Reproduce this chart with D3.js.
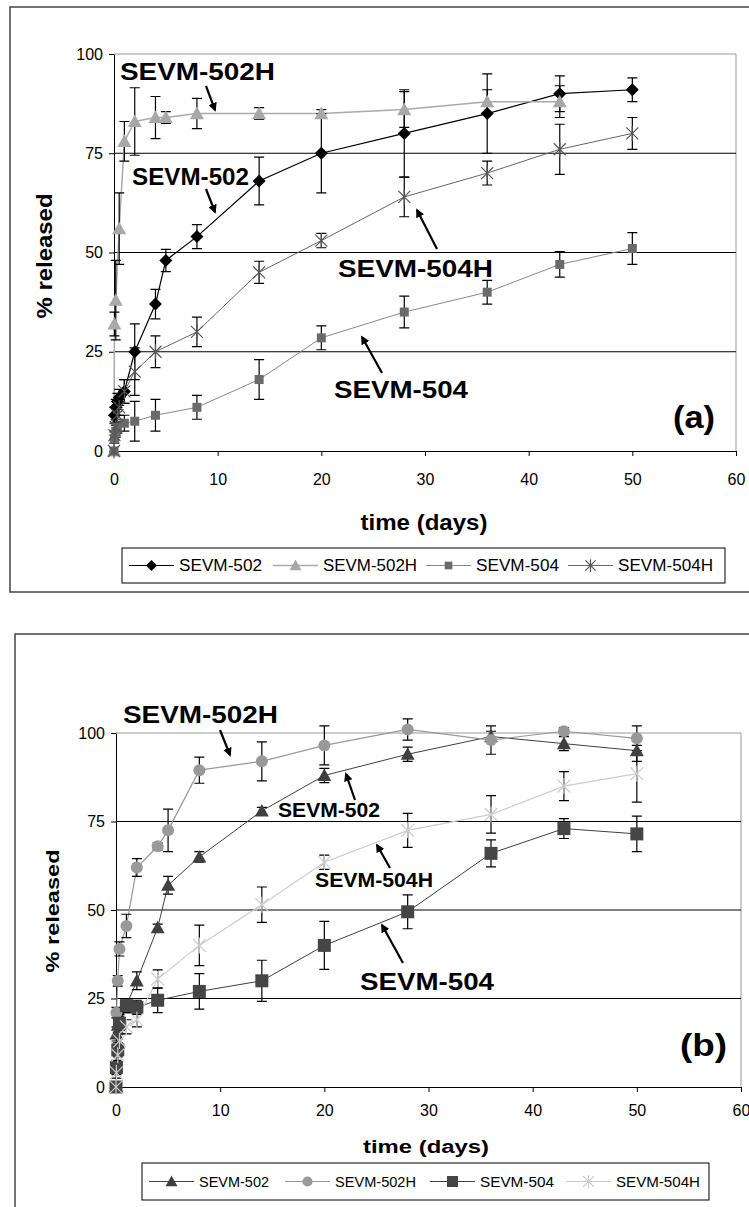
<!DOCTYPE html>
<html>
<head>
<meta charset="utf-8">
<script src="https://cdn.jsdelivr.net/npm/d3@7"></script>
<style>
body { margin: 0; background: #fff; }
text { font-family: "Liberation Sans", Arial, sans-serif; }
</style>
</head>
<body>
<div id="chart"></div>
<script>
const width = 749,
    height = 1207

// sampling times (days), shared by every series
const days = [0, 0.04, 0.17, 0.33, 0.5, 1, 2, 4, 5, 8, 14, 20, 28, 36, 43, 50]
const xTicks = [0, 10, 20, 30, 40, 50, 60]
const yTicks = [0, 25, 50, 75, 100]
const seriesNames = ['SEVM-502', 'SEVM-502H', 'SEVM-504', 'SEVM-504H']

// panel (a): % released, and error bar half-widths
const a502 = [null, 9, 11, 12.5, 13.5, 15, 25, 37, 48, 54, 68, 75, 80, 85, 90, 91]
const a502H = [0, 32, 38, null, 56, 78, 83, 84, 84, 85, 85, 85, 86, 88, 88, null]
const a504 = [0, 3, 5, 6, null, 7, 7.5, 9, null, 11, 18, 28.5, 35, 40, 47, 51]
const a504H = [0, 4, 6, 9, 11, 15, 20, 25, null, 30, 45, 53, 64, 70, 76, 80]
const a502Err = [null, 2, 2, 2, 2, 3, 7, 3.7, 2.8, 3, 6, 10, 11, 10, 4.5, 3]
const a502HErr = [0, 3, 10, null, 9, 5, 8.5, 5.3, 1.5, 3.8, 1.5, 1, 4.5, 3, 4, null]
const a504Err = [0, 1, 1.5, 1.5, null, 2, 5, 4, null, 3, 5, 3, 4, 3, 3.2, 4]
const a504HErr = [0, 1, 2, 2, 2, 3, 6, 4, null, 3.7, 2.8, 1.8, 5, 3, 6.3, 4]

// panel (b)
const b502 = [0, 15, 17.5, 18.5, null, 23, 30, 45, 57, 65, 78, 88, 94, 99, 97, 95]
const b502H = [0, 21, 30, 39, null, 45.5, 62, 68, 72.5, 89.5, 92, 96.5, 101, 98, 100.5, 98.5]
const b504 = [0, 5.5, 10.5, 18, null, 23, 22.5, 24.5, null, 27, 30, 40, 49.5, 66, 73, 71.5]
const b504H = [0, 4, 9, 13, null, 17, 19, 30.5, null, 40, 51.5, 63.5, 72.5, 77, 85, 88.5]
const b502Err = [0, 2, 2, 2, null, 2, 2.5, 1, 2.5, 1.5, 1, 2, 2, 1.5, 2, 3]
const b502HErr = [0, 1.5, 1.5, 2, null, 3.3, 2.5, 1, 6, 3.7, 5.5, 5.5, 3, 4, 1, 3.5]
const b504Err = [0, 2, 2, 2, null, 2, 2, 3.5, null, 5, 5.8, 6.8, 4.8, 3.8, 2.8, 5]
const b504HErr = [0, 1.5, 2, 2, null, 2, 2, 2.6, null, 5.7, 5, 2, 4.8, 5.3, 4.1, 8]

const svg = d3.select('#chart')
    .append('svg')
    .attr('width', width)
    .attr('height', height)

const defs = svg.append('defs')
defs.append('marker')
    .attr('id', 'arrow')
    .attr('viewBox', '0 0 10 10')
    .attr('refX', 8).attr('refY', 5)
    .attr('markerWidth', 4).attr('markerHeight', 4)
    .attr('orient', 'auto')
    .append('path')
    .attr('d', 'M0,0L10,5L0,10z')
    .attr('fill', '#000')

function toPoints(values, errs) {
    return days.map(function (t, i) {
        return { t: t, v: values[i], e: errs[i] }
    }).filter(function (d) { return d.v != null })
}

// marker path centred on 0,0, s = overall size in px
function markerPath(type, s) {
    const h = s / 2
    if (type === 'diamond') return 'M0,' + (-h) + 'L' + h + ',0L0,' + h + 'L' + (-h) + ',0Z'
    if (type === 'square') return 'M' + (-h) + ',' + (-h) + 'H' + h + 'V' + h + 'H' + (-h) + 'Z'
    if (type === 'triangle') return 'M0,' + (-h) + 'L' + h + ',' + (h * 0.8) + 'L' + (-h) + ',' + (h * 0.8) + 'Z'
    if (type === 'circle') return d3.symbol(d3.symbolCircle, Math.PI * h * h)()
    // asterisk: X with a vertical bar
    const k = h * 0.8
    return 'M' + (-k) + ',' + (-k) + 'L' + k + ',' + k + 'M' + k + ',' + (-k) + 'L' + (-k) + ',' + k +
        'M0,' + (-h) + 'V' + h
}

function drawMarker(g, type, s, color, x, y) {
    const p = g.append('path')
        .attr('d', markerPath(type, s))
        .attr('transform', 'translate(' + x + ',' + y + ')')
    if (type === 'asterisk') {
        p.attr('fill', 'none').attr('stroke', color).attr('stroke-width', 1.2)
    } else {
        p.attr('fill', color)
    }
}

function drawPanel(cfg) {
    const g = svg.append('g')
    const x = d3.scaleLinear().domain([0, 60]).range(cfg.xRange)
    const y = d3.scaleLinear().domain([0, 100]).range(cfg.yRange)

    // outer frame
    g.append('rect')
        .attr('x', cfg.frame[0]).attr('y', cfg.frame[1])
        .attr('width', 900).attr('height', cfg.frame[2])
        .attr('fill', 'none').attr('stroke', '#444').attr('stroke-width', 1.5)

    // plot border (grey) and gridlines
    g.append('path')
        .attr('d', 'M' + x(0) + ',' + y(100) + 'H' + x(60) + 'V' + y(0))
        .attr('fill', 'none').attr('stroke', '#999')
    g.selectAll('.grid')
        .data([25, 50, 75])
        .enter().append('line')
        .attr('x1', x(0)).attr('x2', x(60))
        .attr('y1', function (d) { return y(d) }).attr('y2', function (d) { return y(d) })
        .attr('stroke', '#000')

    const ax = g.append('g')
        .attr('transform', 'translate(0,' + y(0) + ')')
        .call(d3.axisBottom(x).tickValues(xTicks).tickSize(5).tickPadding(cfg.xPad).tickSizeOuter(0))
    const ay = g.append('g')
        .attr('transform', 'translate(' + x(0) + ',0)')
        .call(d3.axisLeft(y).tickValues(yTicks).tickSize(5).tickPadding(6).tickSizeOuter(0))
    ;[ax, ay].forEach(function (a) {
        a.selectAll('text').attr('font-size', cfg.tickFont).attr('fill', '#000')
            .attr('font-family', '"Liberation Sans", Arial, sans-serif')
        a.selectAll('line, path').attr('stroke', '#000')
    })

    const series = cfg.series.map(function (s) {
        return Object.assign({}, s, { pts: toPoints(s.values, s.errs) })
    })

    const line = d3.line()
        .x(function (d) { return x(d.t) })
        .y(function (d) { return y(d.v) })

    series.forEach(function (s) {
        g.append('path')
            .datum(s.pts)
            .attr('d', line)
            .attr('fill', 'none')
            .attr('stroke', s.lineColor)
            .attr('stroke-width', s.lineWidth)
    })

    // error bars
    series.forEach(function (s) {
        s.pts.filter(function (d) { return d.e > 0 }).forEach(function (d) {
            const cx = x(d.t), top = y(d.v + d.e), bot = y(d.v - d.e)
            g.append('path')
                .attr('d', 'M' + cx + ',' + top + 'V' + bot +
                    'M' + (cx - 5) + ',' + top + 'H' + (cx + 5) +
                    'M' + (cx - 5) + ',' + bot + 'H' + (cx + 5))
                .attr('fill', 'none').attr('stroke', '#000').attr('stroke-width', 1.2)
        })
    })

    series.forEach(function (s) {
        s.pts.forEach(function (d) {
            drawMarker(g, s.marker, s.size, s.color, x(d.t), y(d.v))
        })
    })

    // axis titles
    g.append('text')
        .attr('x', cfg.xTitle[0]).attr('y', cfg.xTitle[1])
        .attr('text-anchor', 'middle')
        .attr('font-weight', 'bold').attr('font-size', cfg.titleFont)
        .attr('textLength', cfg.xTitle[2]).attr('lengthAdjust', 'spacingAndGlyphs')
        .text('time (days)')
    g.append('text')
        .attr('transform', 'translate(' + cfg.yTitle[0] + ',' + cfg.yTitle[1] + ') rotate(-90)')
        .attr('text-anchor', 'middle')
        .attr('font-weight', 'bold').attr('font-size', cfg.titleFont)
        .attr('textLength', cfg.yTitle[2]).attr('lengthAdjust', 'spacingAndGlyphs')
        .text('% released')

    // labels with arrows
    cfg.notes.forEach(function (n) {
        g.append('text')
            .attr('x', n.x).attr('y', n.y)
            .attr('font-weight', 'bold').attr('font-size', n.size)
            .attr('textLength', n.len).attr('lengthAdjust', 'spacingAndGlyphs')
            .text(n.text)
        if (n.arrow) {
            g.append('line')
                .attr('x1', n.arrow[0]).attr('y1', n.arrow[1])
                .attr('x2', n.arrow[2]).attr('y2', n.arrow[3])
                .attr('stroke', '#000').attr('stroke-width', 2.2)
                .attr('marker-end', 'url(#arrow)')
        }
    })

    // legend
    const lg = cfg.legend
    g.append('rect')
        .attr('x', lg.x).attr('y', lg.y).attr('width', lg.w).attr('height', lg.h)
        .attr('fill', '#fff').attr('stroke', '#000')
    series.forEach(function (s, i) {
        const lx = lg.items[i], cy = lg.y + lg.h / 2
        g.append('line')
            .attr('x1', lx).attr('x2', lx + 45).attr('y1', cy).attr('y2', cy)
            .attr('stroke', s.lineColor).attr('stroke-width', s.lineWidth)
        drawMarker(g, s.marker, s.size * 0.85, s.color, lx + 22.5, cy)
        g.append('text')
            .attr('x', lx + 50).attr('y', cy + lg.font * 0.36)
            .attr('font-size', lg.font)
            .attr('textLength', lg.len[i]).attr('lengthAdjust', 'spacingAndGlyphs')
            .text(s.name)
    })
}

drawPanel({
    xRange: [114, 736], yRange: [451, 54],
    frame: [10, 7, 585],
    xPad: 18, tickFont: 16, titleFont: 22,
    xTitle: [424, 530, 127], yTitle: [52, 256, 125],
    series: [
        { name: seriesNames[0], values: a502, errs: a502Err, marker: 'diamond', size: 13, color: '#000', lineColor: '#000', lineWidth: 1.2 },
        { name: seriesNames[1], values: a502H, errs: a502HErr, marker: 'triangle', size: 14, color: '#a8a8a8', lineColor: '#aaa', lineWidth: 1.5 },
        { name: seriesNames[2], values: a504, errs: a504Err, marker: 'square', size: 9, color: '#6a6a6a', lineColor: '#888', lineWidth: 1 },
        { name: seriesNames[3], values: a504H, errs: a504HErr, marker: 'asterisk', size: 15, color: '#555', lineColor: '#666', lineWidth: 1 }
    ],
    notes: [
        { text: 'SEVM-502H', x: 120, y: 80, size: 23, len: 155, arrow: [206, 86, 215, 110] },
        { text: 'SEVM-502', x: 132, y: 185, size: 23, len: 117, arrow: [206, 189, 215, 212] },
        { text: 'SEVM-504H', x: 338, y: 277, size: 23, len: 155, arrow: [437, 249, 417, 210] },
        { text: 'SEVM-504', x: 334, y: 398, size: 23, len: 134, arrow: [382, 373, 362, 337] },
        { text: '(a)', x: 673, y: 428, size: 31, len: 42 }
    ],
    legend: { x: 122, y: 548, w: 603, h: 35, font: 16, items: [129, 273, 426, 568], len: [83, 94, 83, 95] }
})

drawPanel({
    xRange: [116, 741], yRange: [1087, 733],
    frame: [15, 634, 600],
    xPad: 13, tickFont: 16, titleFont: 18,
    xTitle: [426, 1153, 126], yTitle: [59, 911, 123],
    series: [
        { name: seriesNames[0], values: b502, errs: b502Err, marker: 'triangle', size: 14, color: '#404040', lineColor: '#404040', lineWidth: 1 },
        { name: seriesNames[1], values: b502H, errs: b502HErr, marker: 'circle', size: 12, color: '#999', lineColor: '#999', lineWidth: 1.2 },
        { name: seriesNames[2], values: b504, errs: b504Err, marker: 'square', size: 13, color: '#454545', lineColor: '#404040', lineWidth: 1 },
        { name: seriesNames[3], values: b504H, errs: b504HErr, marker: 'asterisk', size: 16, color: '#ccc', lineColor: '#ccc', lineWidth: 1.2 }
    ],
    notes: [
        { text: 'SEVM-502H', x: 123, y: 723, size: 23, len: 155, arrow: [220, 730, 230, 755] },
        { text: 'SEVM-502', x: 278, y: 817, size: 21, len: 102, arrow: [355, 800, 346, 774] },
        { text: 'SEVM-504H', x: 315, y: 887, size: 21, len: 118, arrow: [390, 868, 377, 845] },
        { text: 'SEVM-504', x: 360, y: 990, size: 24, len: 134, arrow: [403, 963, 382, 925] },
        { text: '(b)', x: 680, y: 1056, size: 32, len: 47 }
    ],
    legend: { x: 142, y: 1163, w: 567, h: 37, font: 15, items: [149, 285, 430, 566], len: [70, 81, 74, 84] }
})
</script>
</body>
</html>
